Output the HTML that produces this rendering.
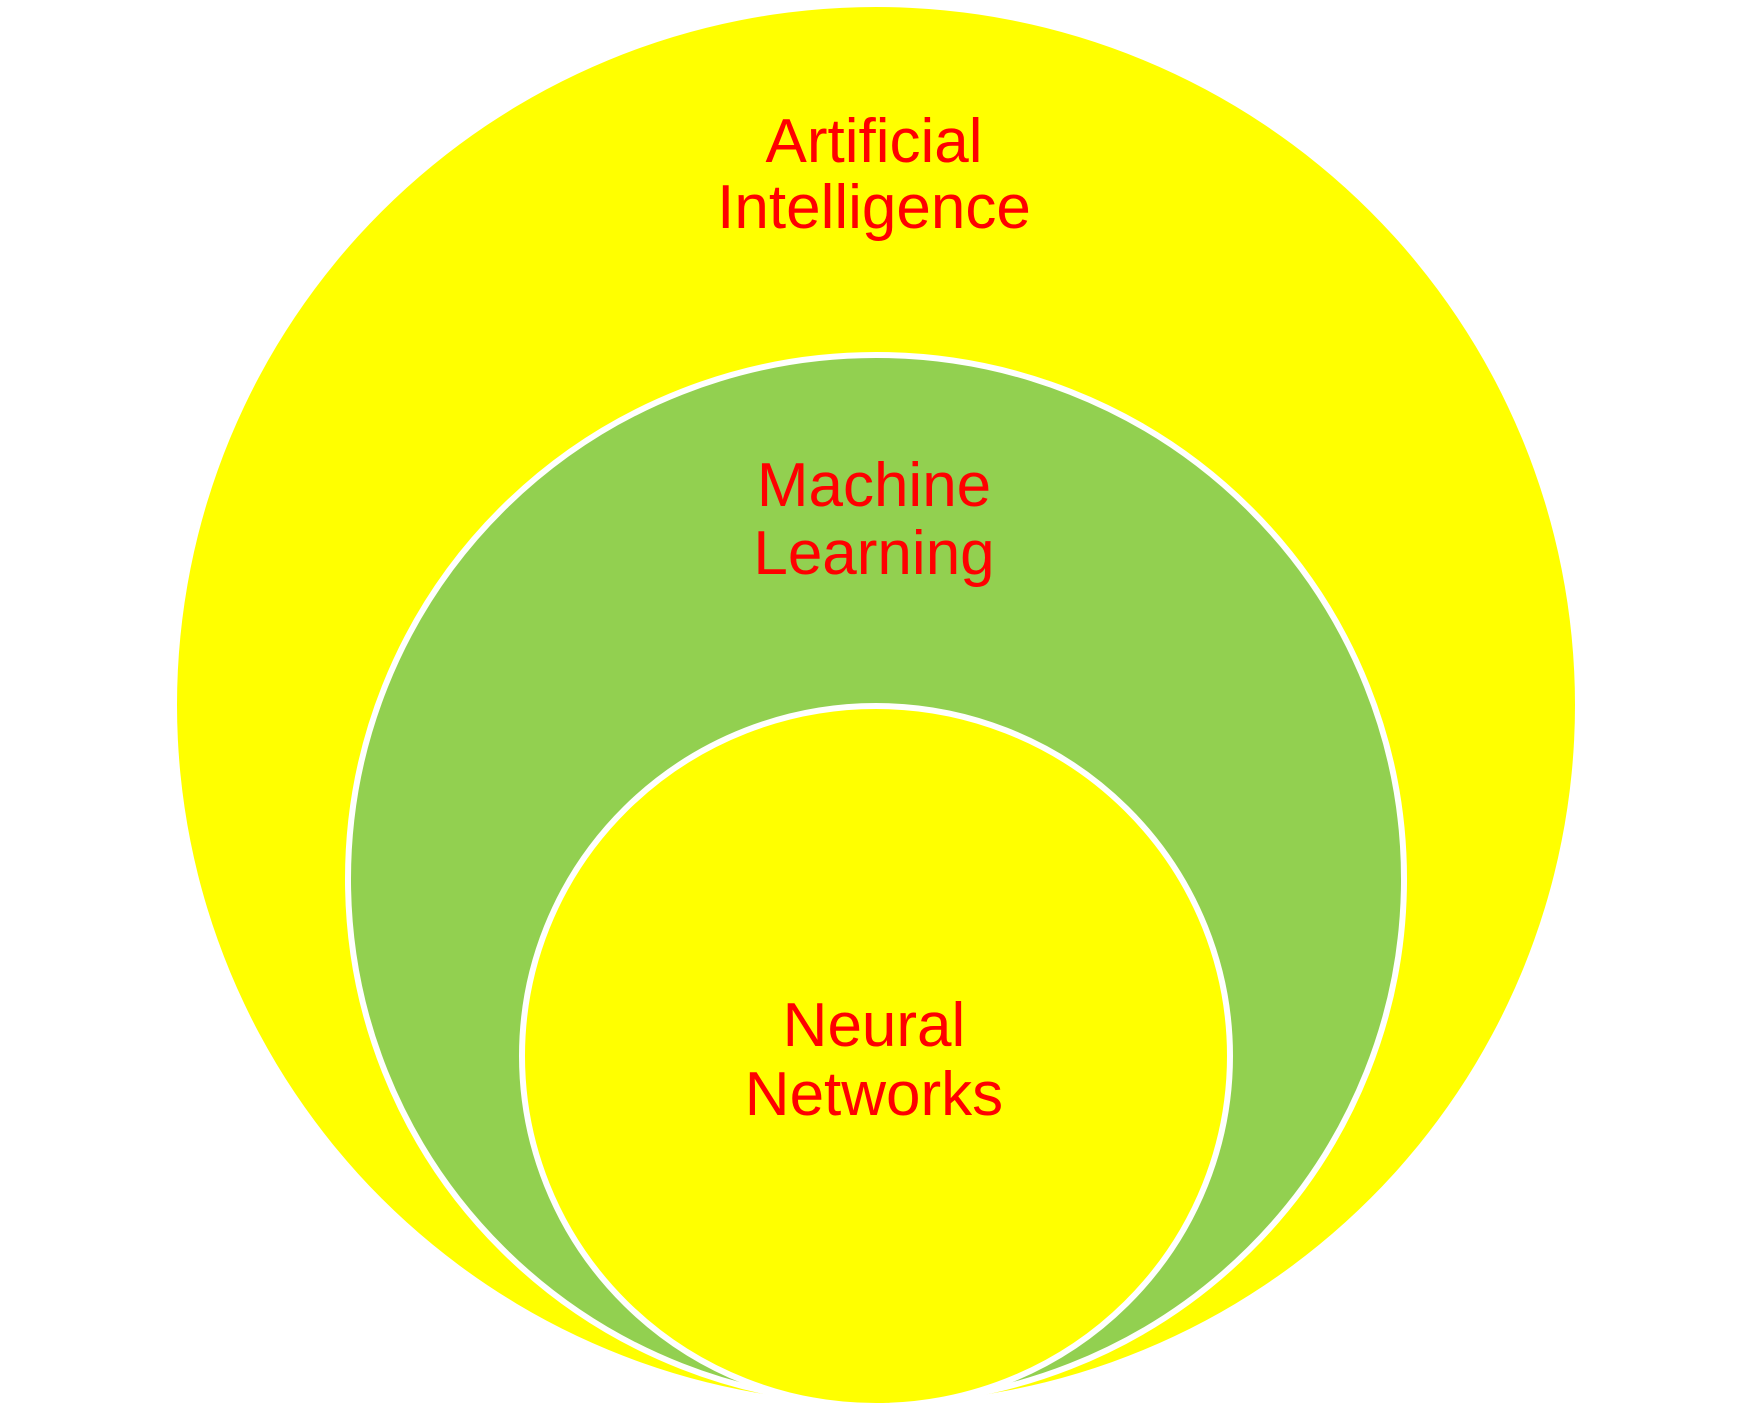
<!DOCTYPE html>
<html><head><style>
html,body{margin:0;padding:0;background:#fff;}
svg{display:block}
text{font-family:"Liberation Sans",sans-serif;font-size:62px;fill:#ff0000;text-anchor:middle}
</style></head><body>
<svg width="1746" height="1416" viewBox="0 0 1746 1416">
<ellipse cx="876" cy="705" rx="699" ry="698" fill="#ffff00"/>
<ellipse cx="876" cy="879" rx="528" ry="524" fill="#92d050" stroke="#fff" stroke-width="6"/>
<ellipse cx="876" cy="1056" rx="354" ry="350" fill="#ffff00" stroke="#fff" stroke-width="6"/>
<text x="874" y="162">Artificial</text>
<text x="874" y="228">Intelligence</text>
<text x="874" y="506">Machine</text>
<text x="874" y="574">Learning</text>
<text x="874" y="1046">Neural</text>
<text x="874" y="1115">Networks</text>
</svg>
</body></html>
